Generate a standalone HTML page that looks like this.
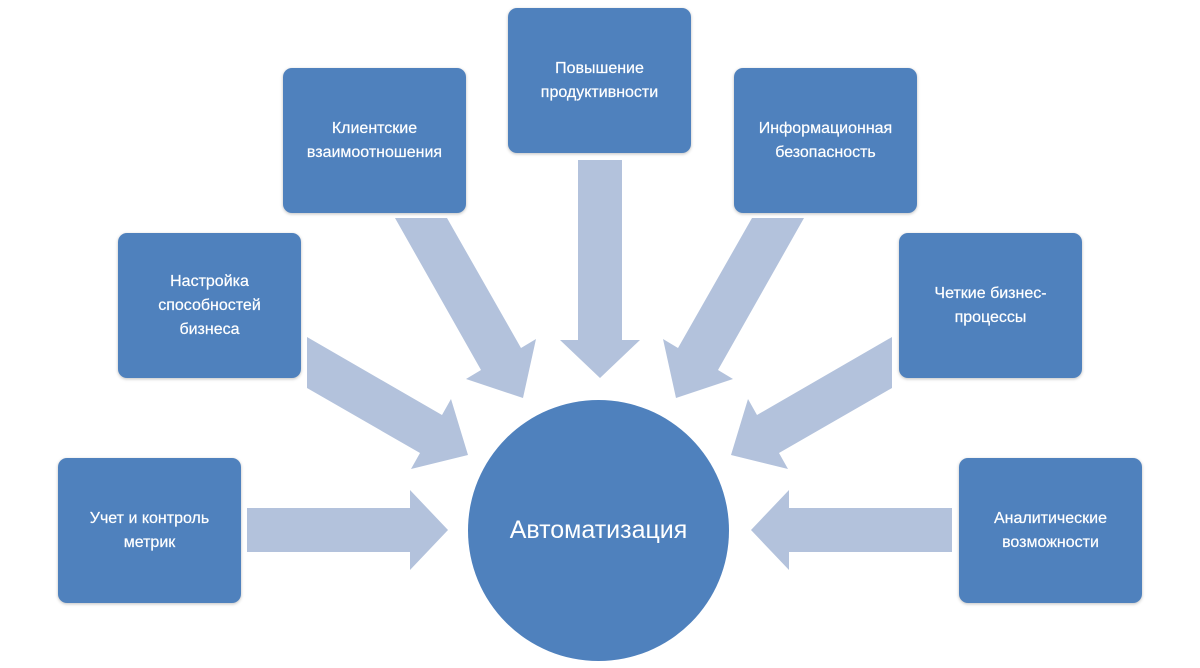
<!DOCTYPE html>
<html><head><meta charset="utf-8"><style>
body{margin:0;background:#fff;width:1200px;height:668px;overflow:hidden;position:relative;font-family:"Liberation Sans",sans-serif}
.b{position:absolute;width:183px;height:145px;background:#4f81bd;border-radius:9px;color:#fff;display:flex;align-items:center;justify-content:center;text-align:center;font-size:16px;line-height:24px;box-shadow:0 1px 3px rgba(0,0,0,.25);-webkit-text-stroke:0.2px #fff}
svg{position:absolute;left:0;top:0}
.c{position:absolute;left:468px;top:400px;width:261px;height:261px;border-radius:50%;background:#4f81bd;color:#fff;display:flex;align-items:center;justify-content:center;font-size:25px}
</style></head><body>
<svg width="1200" height="668">
<g fill="#b3c2dc">
<polygon points="395,218 447,218 521,348 536,339 523,398 466,379 481,370"/>
<polygon points="804,218 752,218 678,348 663,339 676,398 733,379 718,370"/>
<polygon points="307,337 442,415 451,399 468,455 411,469 420,453 307,388"/>
<polygon points="892,337 757,415 748,399 731,455 788,469 779,453 892,388"/>
<polygon points="578,160 622,160 622,340 640,340 600,378 560,340 578,340"/>
<polygon points="247,508 410,508 410,490 448,530 410,570 410,552 247,552"/>
<polygon points="952,508 789,508 789,490 751,530 789,570 789,552 952,552"/>
</g></svg>
<div class="b" style="left:508px;top:8px">Повышение<br>продуктивности</div>
<div class="b" style="left:283px;top:68px">Клиентские<br>взаимоотношения</div>
<div class="b" style="left:734px;top:68px">Информационная<br>безопасность</div>
<div class="b" style="left:118px;top:233px">Настройка<br>способностей<br>бизнеса</div>
<div class="b" style="left:899px;top:233px">Четкие бизнес-<br>процессы</div>
<div class="b" style="left:58px;top:458px">Учет и контроль<br>метрик</div>
<div class="b" style="left:959px;top:458px">Аналитические<br>возможности</div>
<div class="c">Автоматизация</div>
</body></html>
